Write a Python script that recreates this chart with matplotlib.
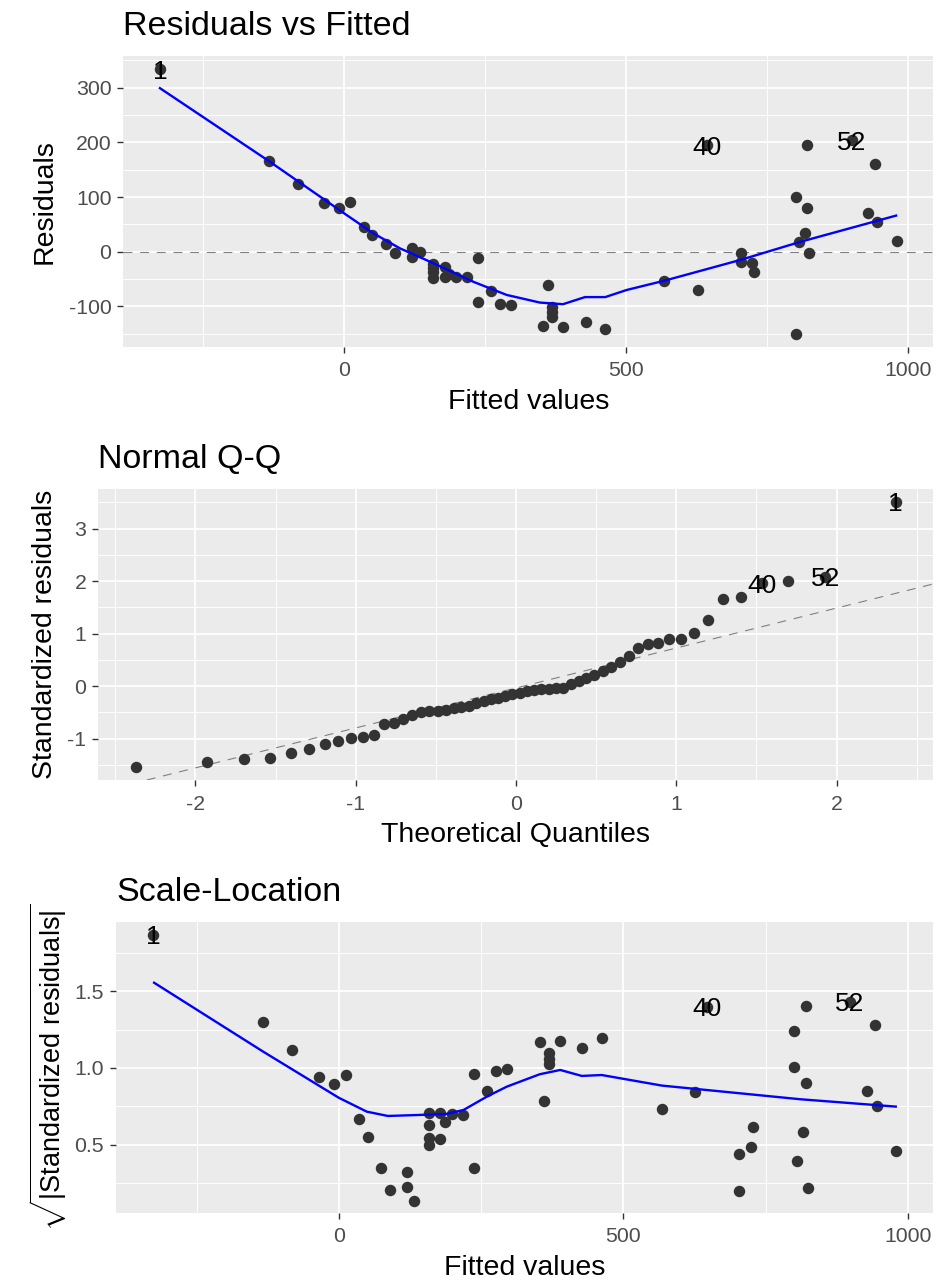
import matplotlib
matplotlib.use("Agg")
import matplotlib.pyplot as plt
from statistics import NormalDist

plt.rcParams['font.family'] = ['Liberation Sans', 'DejaVu Sans']
plt.rcParams['axes.unicode_minus'] = False
plt.rcParams['mathtext.fontset'] = 'custom'
plt.rcParams['mathtext.rm'] = 'Liberation Sans'
plt.rcParams['mathtext.it'] = 'Liberation Sans:italic'
plt.rcParams['mathtext.bf'] = 'Liberation Sans:bold'

# ---------------- data: Residuals vs Fitted ----------------
# first three points are observations 1, 40, 52 (labelled)
rvf_fitted = [-327, 643, 901, -133, -82, -35.5, -9, 11, 35, 50, 73.5, 89.5, 119.6, 134,
              119.6, 158, 158, 158, 158, 178.8, 178.8, 186, 198, 217, 236.8, 236.8, 260,
              276.4, 296, 362, 368, 368, 368, 353, 388.8, 428, 463, 567.5, 626.7, 703.7,
              703.7, 723.2, 727.3, 801.3, 821, 816.6, 806, 825, 801.3, 821, 942, 929.7,
              945.7, 980.6]
rvf_resid = [334, 195, 204, 166, 123, 88.5, 79, 90, 44.6, 30.5, 13.5, -3, 6, -0.5,
             -9, -22, -30, -38, -48.6, -27.4, -46.8, -41, -46.8, -46.8, -12, -91.4, -71.8,
             -95.6, -97.4, -61.4, -100.5, -109.7, -118.8, -135, -138, -128, -142, -53, -70, -3,
             -19.4, -21.2, -36.6, 100.5, 80.4, 34.7, 17.2, -3, -150.5, 195, 159.8, 71.3,
             54.8, 20]
rvf_smooth_x = [-327, -132, 0, 51, 99, 158, 229, 288, 347, 388, 427, 463, 501, 568, 703, 809, 979]
rvf_smooth_y = [299, 164.5, 70, 34, 6, -21, -55, -79, -93, -96, -83, -83, -70, -53, -15, 18, 66]

point_labels = ["1", "40", "52"]
label_index = [0, 1, 2]

# ---------------- data: Normal Q-Q (sorted standardized residuals) ----------------
qq_sample = [-1.549, -1.441, -1.397, -1.365, -1.283, -1.194, -1.105, -1.048, -0.984, -0.965,
             -0.933, -0.73, -0.711, -0.635, -0.55, -0.50, -0.48, -0.47, -0.46, -0.42,
             -0.40, -0.38, -0.33, -0.29, -0.25, -0.22, -0.19, -0.16, -0.13, -0.10,
             -0.07, -0.06, -0.05, -0.045, -0.03, 0.04, 0.10, 0.16, 0.21, 0.28,
             0.36, 0.46, 0.578, 0.73, 0.794, 0.813, 0.889, 0.901, 1.016, 1.251,
             1.651, 1.70, 1.956, 2.006, 2.082, 3.51]
qq_label_rank = [55, 52, 54]        # ranks of observations 1, 40, 52
qq_line_slope = 0.761
qq_line_intercept = -0.037

# ---------------- data: Scale-Location ----------------
sl_fitted = [-326.5, 646.5, 898.5, -133, -82, -35.7, -8.2, 11.7, 34.6, 50.4, 73.9, 89.7, 120,
             120, 131.9, 158.8, 158.8, 158.8, 158.8, 177.6, 177.6, 186.4, 198, 217.5, 237.4,
             237.4, 259.7, 276, 296, 353.4, 388.6, 369.3, 369.3, 369.3, 427.9, 463, 361,
             567.4, 626, 704, 724, 727.4, 704, 800.6, 820.6, 800.6, 820.6, 816.5, 804.8,
             824.2, 942, 929, 945.5, 979.4]
sl_value = [1.868, 1.40, 1.432, 1.302, 1.117, 0.943, 0.893, 0.952, 0.665, 0.552, 0.346, 0.204,
            0.32, 0.226, 0.134, 0.708, 0.628, 0.541, 0.498, 0.708, 0.537, 0.65, 0.70, 0.695,
            0.961, 0.35, 0.852, 0.982, 0.99, 1.168, 1.178, 1.096, 1.059, 1.026, 1.132, 1.198,
            0.785, 0.735, 0.841, 0.437, 0.487, 0.615, 0.198, 1.241, 1.406, 1.006, 0.90, 0.585,
            0.395, 0.215, 1.278, 0.852, 0.754, 0.457]
sl_smooth_x = [-325, -133, 0, 49, 86, 137, 189, 219, 260, 295, 353, 389, 427, 462, 568, 811, 979]
sl_smooth_y = [1.556, 1.106, 0.805, 0.715, 0.687, 0.693, 0.70, 0.726, 0.813, 0.878, 0.959,
               0.987, 0.948, 0.954, 0.885, 0.796, 0.748]

fitted_ticks = [0, 500, 1000]
fitted_minor = [-250, 250, 750]

# ---------------- layout ----------------
W, H = 945, 1280
fig = plt.figure(figsize=(W / 100, H / 100), dpi=100)

def add_panel(left, top, right, bottom):
    return fig.add_axes([left / W, 1 - bottom / H, (right - left) / W, (bottom - top) / H])

ax1 = add_panel(123.3, 56, 933.3, 346.7)
ax2 = add_panel(98.3, 489.3, 933.3, 780)
ax3 = add_panel(116, 921.7, 933.3, 1212.7)

PT_COLOR = '#333333'
BG = '#EBEBEB'
PT_SIZE = 68
LINE_W = 1.7

def style(ax, title, xlabel, ylabel, xmaj, xmin, ymaj, ymin, hpx, lab_x):
    ax.set_facecolor(BG)
    for s in ax.spines.values():
        s.set_visible(False)
    ax.set_xticks(xmaj)
    ax.set_xticks(xmin, minor=True)
    ax.set_yticks(ymaj)
    ax.set_yticks(ymin, minor=True)
    ax.grid(which='major', color='white', linewidth=1.25)
    ax.grid(which='minor', color='white', linewidth=0.65)
    ax.set_axisbelow(True)
    ax.tick_params(which='major', length=4, width=1.0, color='#333333',
                   labelsize=15.3, labelcolor='#4D4D4D')
    ax.tick_params(axis='x', which='major', pad=6.5)
    ax.tick_params(axis='y', which='major', pad=4.5)
    ax.tick_params(which='minor', length=0)
    ax.set_title(title, loc='left', pad=15, fontsize=24.5, color='black')
    ax.set_xlabel(xlabel, fontsize=20.5, color='black')
    ax.set_ylabel(ylabel, fontsize=20.5, color='black')
    ax.xaxis.label.set_va('baseline')
    ax.xaxis.set_label_coords(0.5, -62.0 / hpx)
    ax.yaxis.label.set_va('center')
    ax.yaxis.set_label_coords(lab_x, 0.5)

def label_points(ax, xs, ys):
    for name, x, y in zip(point_labels, xs, ys):
        ax.text(x, y, name, fontsize=19, ha='center', va='center_baseline',
                color='black', zorder=5)

# ---- panel 1
ax1.scatter(rvf_fitted, rvf_resid, s=PT_SIZE, color=PT_COLOR, zorder=3, linewidths=0)
ax1.plot(rvf_smooth_x, rvf_smooth_y, color='#0000FF', linewidth=LINE_W, zorder=4)
ax1.axhline(0, color='#808080', linewidth=0.8, linestyle=(0, (8, 7)), zorder=2)
label_points(ax1, [rvf_fitted[i] for i in label_index], [rvf_resid[i] for i in label_index])
ax1.set_xlim(-392, 1045)
ax1.set_ylim(-173.7, 357.8)
style(ax1, 'Residuals vs Fitted', 'Fitted values', 'Residuals',
      fitted_ticks, fitted_minor, [-100, 0, 100, 200, 300], [-150, -50, 50, 150, 250, 350],
      290.7, (45 - 123.3) / 810.0)

# ---- panel 2
n = len(qq_sample)
qq_theo = [NormalDist().inv_cdf((i + 0.5) / n) for i in range(n)]
ax2.scatter(qq_theo, qq_sample, s=PT_SIZE, color=PT_COLOR, zorder=3, linewidths=0)
ax2.axline((0, qq_line_intercept), slope=qq_line_slope, color='#808080', linewidth=0.8,
           linestyle=(0, (8, 7)), zorder=2)
label_points(ax2, [qq_theo[r] for r in qq_label_rank], [qq_sample[r] for r in qq_label_rank])
ax2.set_xlim(-2.606, 2.603)
ax2.set_ylim(-1.79, 3.747)
style(ax2, 'Normal Q-Q', 'Theoretical Quantiles', 'Standardized residuals',
      [-2, -1, 0, 1, 2], [-2.5, -1.5, -0.5, 0.5, 1.5, 2.5], [-1, 0, 1, 2, 3],
      [-1.5, -0.5, 0.5, 1.5, 2.5, 3.5], 290.7, (45 - 98.3) / 835.0)

# ---- panel 3
ax3.scatter(sl_fitted, sl_value, s=PT_SIZE, color=PT_COLOR, zorder=3, linewidths=0)
ax3.plot(sl_smooth_x, sl_smooth_y, color='#0000FF', linewidth=LINE_W, zorder=4)
label_points(ax3, [sl_fitted[i] for i in label_index], [sl_value[i] for i in label_index])
ax3.set_xlim(-392, 1045)
ax3.set_ylim(0.056, 1.954)
style(ax3, 'Scale-Location', 'Fitted values',
      r'$\sqrt{|\mathrm{Standardized\ residuals}|}$',
      fitted_ticks, fitted_minor, [0.5, 1.0, 1.5], [0.25, 0.75, 1.25, 1.75],
      291.0, (48 - 116) / 817.3)
ax3.yaxis.label.set_fontsize(19.5)
ax3.yaxis.set_major_formatter(matplotlib.ticker.FormatStrFormatter('%.1f'))

fig.savefig('out.png', dpi=100, facecolor='white')
